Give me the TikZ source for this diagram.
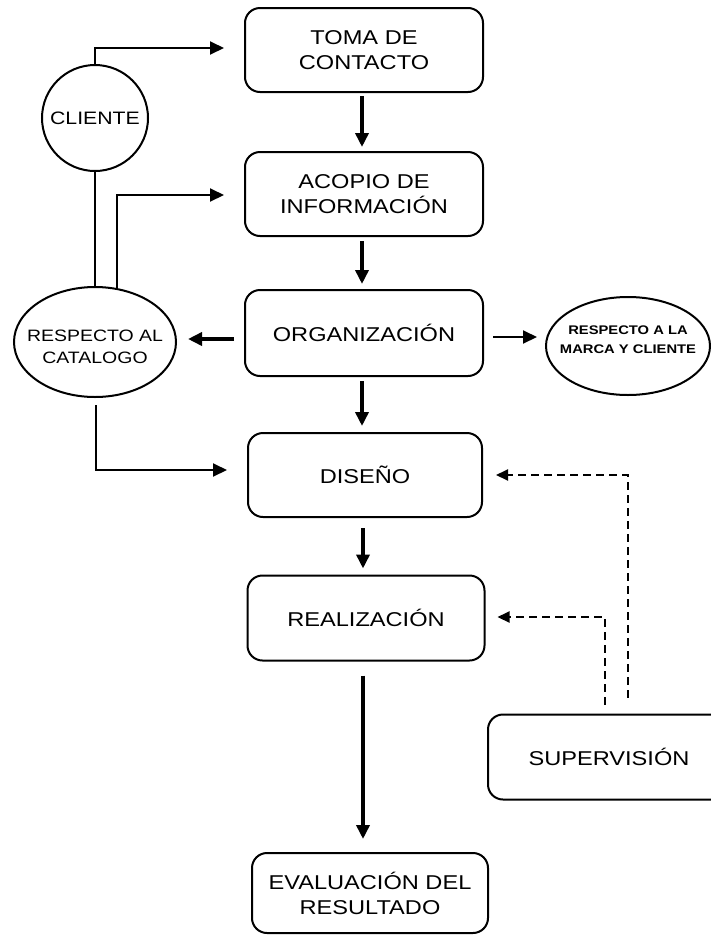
\documentclass[tikz,border=0pt]{standalone}
\usepackage{fontspec}
\setmainfont{Liberation Sans}[FakeStretch=1.18]
\usetikzlibrary{arrows.meta,shapes.geometric,calc}
\begin{document}
\begin{tikzpicture}[x=1pt,y=-1pt,
  box/.style={draw, line width=2pt, rounded corners=15pt, inner sep=0pt, align=center,
    font=\fontsize{20}{25}\selectfont},
  mainarr/.style={line width=3.5pt, -{Triangle[length=14pt,width=13pt]}},
  sidearr/.style={line width=2pt, -{Triangle[length=14pt,width=13pt]}},
  plainline/.style={line width=2pt},
  dasharr/.style={line width=2pt, dash pattern=on 8pt off 5pt, -{Triangle[length=12pt,width=11pt]}},
  lbl/.style={align=center, inner sep=0pt}]
\clip (0,0) rectangle (711,935);
% main boxes
\node[box, minimum width=238pt, minimum height=84pt] (toma) at (364,50) {TOMA DE\\CONTACTO};
\node[box, minimum width=238pt, minimum height=84pt] (acopio) at (364,194) {ACOPIO DE\\INFORMACIÓN};
\node[box, minimum width=238pt, minimum height=86pt] (org) at (364,333) {ORGANIZACIÓN};
\node[box, minimum width=234pt, minimum height=84pt] (diseno) at (365,475) {DISEÑO};
\node[box, minimum width=237pt, minimum height=85pt] (real) at (366,618) {REALIZACIÓN};
\node[box, minimum width=236pt, minimum height=80pt] (eval) at (370,893) {EVALUACIÓN DEL\\RESULTADO};
\node[box, minimum width=242pt, minimum height=85pt] (sup) at (609,757) {SUPERVISIÓN};
% side shapes
\node[draw, circle, line width=2pt, minimum size=106pt, inner sep=0pt,
  font=\fontsize{18}{22}\selectfont] (cliente) at (95,118) {CLIENTE};
\node[draw, ellipse, line width=2pt, minimum width=162pt, minimum height=110pt, inner sep=0pt,
  label={[lbl, yshift=-5pt, font=\fontsize{16.5}{22}\selectfont]center:{RESPECTO AL\\CATALOGO}}]
  (catalog) at (95,342) {};
\node[draw, ellipse, line width=2pt, minimum width=164pt, minimum height=98pt, inner sep=0pt,
  label={[lbl, yshift=6pt, font=\fontsize{12.5}{19}\selectfont\bfseries]center:{RESPECTO A LA\\MARCA Y CLIENTE}}]
  (marca) at (628,346) {};
% main flow
\draw[mainarr] ($(toma.south)+(-2,3)$) -- ($(acopio.north)+(-2,-4)$);
\draw[mainarr] ($(acopio.south)+(-2,4)$) -- ($(org.north)+(-2,-5)$);
\draw[mainarr] ($(org.south)+(-2,4)$) -- ($(diseno.north)+(-3,-6)$);
\draw[mainarr] ($(diseno.south)+(-2,10)$) -- ($(real.north)+(-3,-6)$);
\draw[mainarr] ($(real.south)+(-3,14)$) -- ($(real.south |- eval.north)+(-3,-13)$);
% client connections
\draw[sidearr] (cliente.north) |- ($(toma.west)+(-20,-2)$);
\draw[plainline] (cliente) -- (catalog);
\draw[sidearr] ($(catalog.north)+(22,2)$) |- ($(acopio.west)+(-20,1)$);
\draw[sidearr] ($(catalog.south)+(1,7)$) |- ($(diseno.west)+(-20,-5)$);
% organisation outputs
\draw[mainarr] ($(org.west)+(-10,6)$) -- ($(catalog.east |- org.west)+(11,6)$);
\draw[sidearr] ($(org.east)+(9,4)$) -- ($(marca.west |- org.east)+(-8,4)$);
% supervision feedback
\draw[dasharr] ($(sup.north)+(19,-16)$) |- ($(diseno.east)+(13,0)$);
\draw[dasharr] ($(sup.north)+(-4,-9)$) |- ($(real.east)+(12,-1)$);
\end{tikzpicture}
\end{document}
